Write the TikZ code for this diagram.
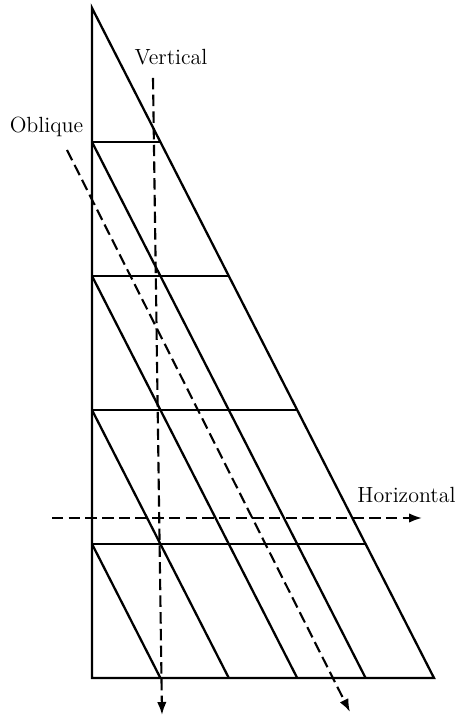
\documentclass[tikz,border=0pt]{standalone}
\usepackage{tikz}
\usetikzlibrary{arrows.meta,calc}
\tikzset{
  kpline/.style={line width=1.3pt},
  kpdash/.style={line width=1.2pt, dash pattern=on 6.5pt off 3pt,
    -{Latex[length=2.6mm,width=1.9mm]}},
  kplabel/.style={font=\fontsize{12.5}{15}\selectfont, inner sep=0pt, anchor=base},
}
\begin{document}
\begin{tikzpicture}
  \useasboundingbox (0,0) rectangle (9.28,14.38);
  \coordinate (bl) at (1.84,0.82);
  \coordinate (br) at (8.68,0.82);
  \coordinate (tl) at (1.84,14.22);

  % outline of the panel
  \draw[kpline] (tl) -- (bl) -- (br) -- cycle;
  \foreach \k in {1,...,4} {
    \coordinate (l\k) at ($(bl)+(0,\k*2.68)$);
    \draw[kpline] (l\k) -- ($(l\k)+({(5-\k)*1.368},0)$);
    \draw[kpline] (l\k) -- ($(bl)+({\k*1.368},0)$);
  }

  % cutting directions
  \coordinate (vtop) at (3.06,12.82);
  \coordinate (vbot) at (3.24,0.08);
  \coordinate (otop) at (1.34,11.38);
  \coordinate (obot) at (7.00,0.14);
  \coordinate (hleft) at (1.04,4.02);
  \coordinate (hright) at (8.44,4.02);
  \draw[kpdash] (vtop) -- (vbot);
  \draw[kpdash] (otop) -- (obot);
  \draw[kpdash] (hleft) -- (hright);

  \node[kplabel] (vlabel) at (3.42,13.08) {Vertical};
  \node[kplabel] (olabel) at (0.93,11.72) {Oblique};
  \node[kplabel] (hlabel) at (8.13,4.32) {Horizontal};
\end{tikzpicture}
\end{document}
